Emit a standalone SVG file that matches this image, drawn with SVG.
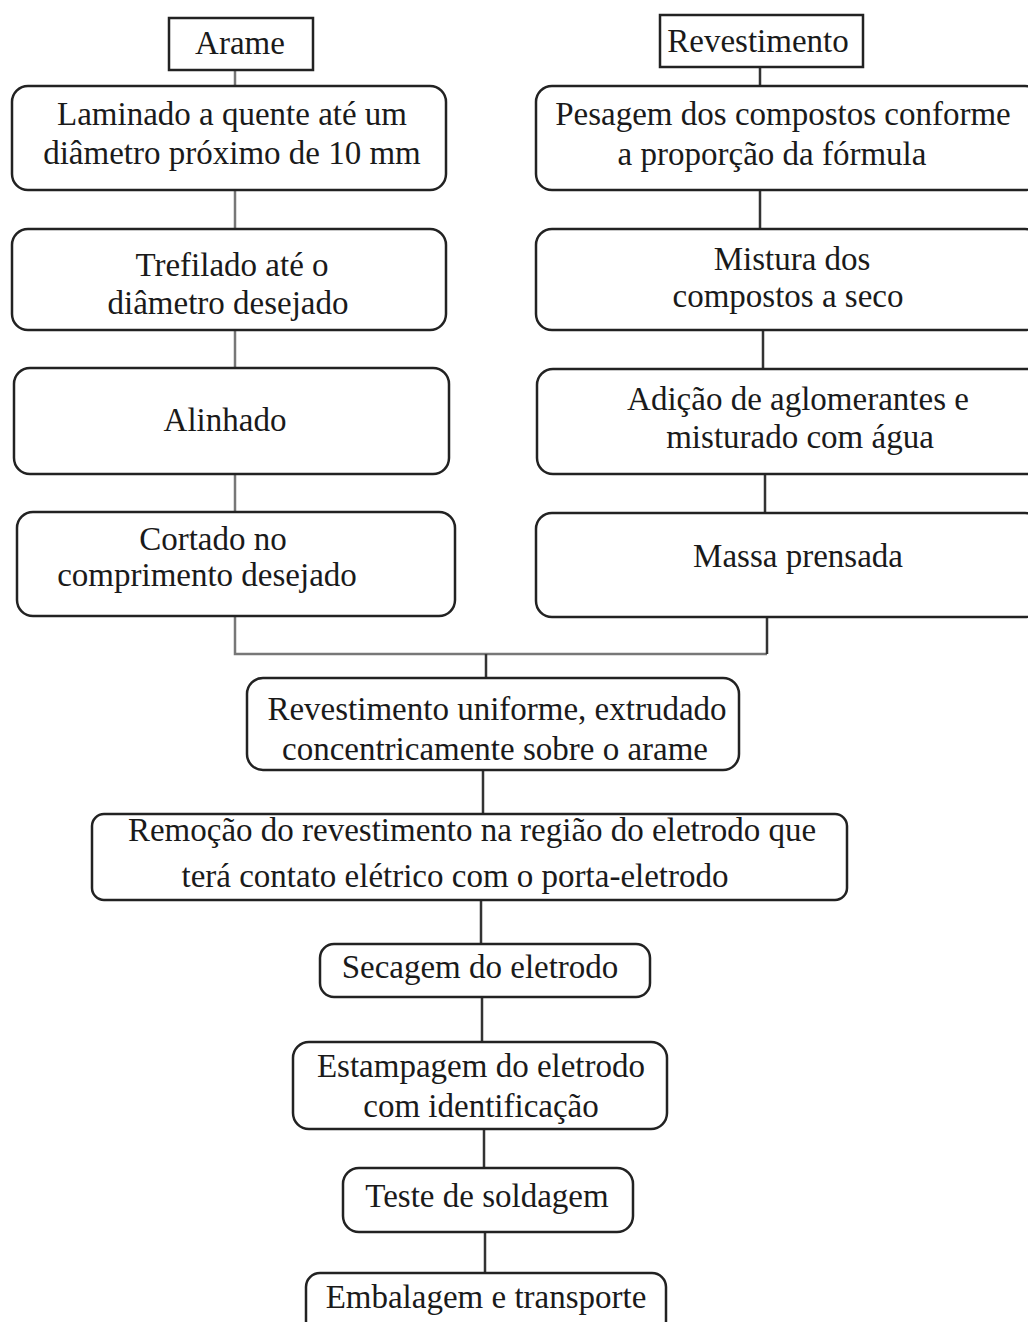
<svg xmlns="http://www.w3.org/2000/svg" width="1028" height="1322" viewBox="0 0 1028 1322">
<style>
.box{fill:#fff;stroke:#222;stroke-width:2.5}
.lbl{font-family:"Liberation Serif","Times New Roman",serif;font-size:33px;fill:#1a1a1a;text-anchor:middle}
.c{stroke:#333;stroke-width:2.5;fill:none}
.cl{stroke:#777;stroke-width:2.5;fill:none}
</style>
<rect width="1028" height="1322" fill="#fff"/>
<g id="connectors">
<path class="cl" d="M235 71V86M235 190V229M235 330V368M235 474V512M235 616V654H767"/>
<path class="c" d="M760 67V86M760 190V229M763 330V369M765 474V513M767 617V654"/>
<path class="c" d="M486 654V678M483 770V814M481 900V944M482 997V1042M484 1129V1168M485 1232V1273"/>
</g>
<g id="arame"><rect class="box" x="169" y="18" width="144" height="52"/><text class="lbl" x="240" y="54">Arame</text></g>
<g id="revestimento"><rect class="box" x="660" y="15" width="203" height="52"/><text class="lbl" x="758" y="52">Revestimento</text></g>
<g id="laminado"><rect class="box" x="12" y="86" width="434" height="104" rx="16"/><text class="lbl" x="232" y="125">Laminado a quente até um</text><text class="lbl" x="232" y="164">diâmetro próximo de 10 mm</text></g>
<g id="trefilado"><rect class="box" x="12" y="229" width="434" height="101" rx="16"/><text class="lbl" x="232" y="276">Trefilado até o</text><text class="lbl" x="228" y="314">diâmetro desejado</text></g>
<g id="alinhado"><rect class="box" x="14" y="368" width="435" height="106" rx="16"/><text class="lbl" x="225" y="431">Alinhado</text></g>
<g id="cortado"><rect class="box" x="17" y="512" width="438" height="104" rx="16"/><text class="lbl" x="213" y="550">Cortado no</text><text class="lbl" x="207" y="586">comprimento desejado</text></g>
<g id="pesagem"><rect class="box" x="536" y="86" width="505" height="104" rx="16"/><text class="lbl" x="783" y="125">Pesagem dos compostos conforme</text><text class="lbl" x="772" y="165">a proporção da fórmula</text></g>
<g id="mistura"><rect class="box" x="536" y="229" width="505" height="101" rx="16"/><text class="lbl" x="792" y="270">Mistura dos</text><text class="lbl" x="788" y="307">compostos a seco</text></g>
<g id="adicao"><rect class="box" x="537" y="369" width="505" height="105" rx="16"/><text class="lbl" x="798" y="410">Adição de aglomerantes e</text><text class="lbl" x="800" y="448">misturado com água</text></g>
<g id="massa"><rect class="box" x="536" y="513" width="505" height="104" rx="16"/><text class="lbl" x="798" y="567">Massa prensada</text></g>
<g id="revestimento-uniforme"><rect class="box" x="247" y="678" width="492" height="92" rx="16"/><text class="lbl" x="497" y="720">Revestimento uniforme, extrudado</text><text class="lbl" x="495" y="760">concentricamente sobre o arame</text></g>
<g id="remocao"><rect class="box" x="92" y="814" width="755" height="86" rx="12"/><text class="lbl" x="472" y="841">Remoção do revestimento na região do eletrodo que</text><text class="lbl" x="455" y="887">terá contato elétrico com o porta-eletrodo</text></g>
<g id="secagem"><rect class="box" x="320" y="944" width="330" height="53" rx="14"/><text class="lbl" x="480" y="978">Secagem do eletrodo</text></g>
<g id="estampagem"><rect class="box" x="293" y="1042" width="374" height="87" rx="16"/><text class="lbl" x="481" y="1077">Estampagem do eletrodo</text><text class="lbl" x="481" y="1117">com identificação</text></g>
<g id="teste"><rect class="box" x="343" y="1168" width="290" height="64" rx="16"/><text class="lbl" x="487" y="1207">Teste de soldagem</text></g>
<g id="embalagem"><rect class="box" x="306" y="1273" width="360" height="62" rx="14"/><text class="lbl" x="486" y="1308">Embalagem e transporte</text></g>
</svg>
